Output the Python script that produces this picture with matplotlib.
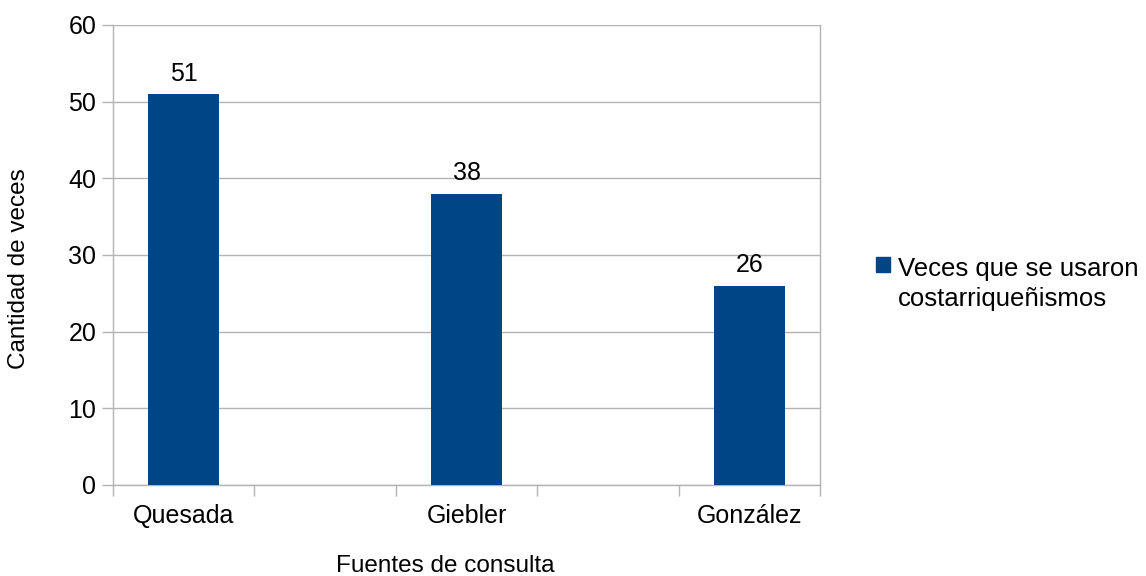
import matplotlib
matplotlib.use("Agg")
import matplotlib.pyplot as plt
from matplotlib.patches import Patch

categories = ["Quesada", "Giebler", "González"]
values = [51, 38, 26]
series_name = "Veces que se usaron\ncostarriqueñismos"
y_ticks = [0, 10, 20, 30, 40, 50, 60]

plt.rcParams["font.family"] = ["Liberation Sans", "DejaVu Sans"]

fig = plt.figure(figsize=(11.46, 5.76), dpi=100)
ax = fig.add_axes([113 / 1146, 1 - 485 / 576, (820 - 113) / 1146, (485 - 25) / 576])

bar_color = "#004586"
grid_color = "#b3b3b3"
xs = list(range(len(categories)))
ax.bar(xs, values, width=0.25, color=bar_color, zorder=3)

for x, v in zip(xs, values):
    ax.annotate(str(v), (x, v), xytext=(0, 6), textcoords="offset points",
                ha="center", va="bottom", fontsize=18, color="black")

ax.set_xlim(-0.25, len(categories) - 0.75)
ax.set_ylim(0, 60)
ax.set_yticks(y_ticks)
ax.yaxis.grid(True, color=grid_color, linewidth=1, zorder=0)

# category labels centered, tick marks at half-category boundaries
ax.set_xticks([i * 0.5 - 0.25 for i in range(2 * len(categories))], minor=False)
ax.set_xticklabels([])
ax.set_xticks(xs, minor=True)
ax.set_xticklabels(categories, minor=True)
ax.tick_params(axis="x", which="major", length=8, color=grid_color, width=1, direction="out")
ax.tick_params(axis="x", which="minor", length=0, pad=14, labelsize=18)
ax.tick_params(axis="y", length=8, color=grid_color, width=1, direction="out", pad=4, labelsize=18)

for side in ["left", "bottom", "right"]:
    ax.spines[side].set_color(grid_color)
    ax.spines[side].set_linewidth(1)
ax.spines["top"].set_visible(False)

ax.set_ylabel("Cantidad de veces", fontsize=17.5)
ax.set_xlabel("Fuentes de consulta", fontsize=17.5)
ax.yaxis.label.set_va("center")
ax.xaxis.label.set_va("center")
ax.yaxis.set_label_coords((19 - 113) / 707, (485 - 269) / 460)
ax.xaxis.set_label_coords((445 - 113) / 707, (485 - 566) / 460)

handles = [Patch(facecolor=bar_color, edgecolor=bar_color, label=series_name)]
leg = fig.legend(handles=handles, loc="upper left", bbox_to_anchor=(876 / 1146, 1 - 257 / 576),
                 frameon=False, fontsize=18.5, handlelength=0.55, handleheight=0.55,
                 handletextpad=0.3, borderpad=0, borderaxespad=0)
for t in leg.get_texts():
    t.set_linespacing(1.3)
# keep the colour swatch level with the first line of the label
for column in leg._legend_handle_box.get_children():
    for row in column.get_children():
        row.align = "top"

fig.savefig("out.png", dpi=100, facecolor="white")
